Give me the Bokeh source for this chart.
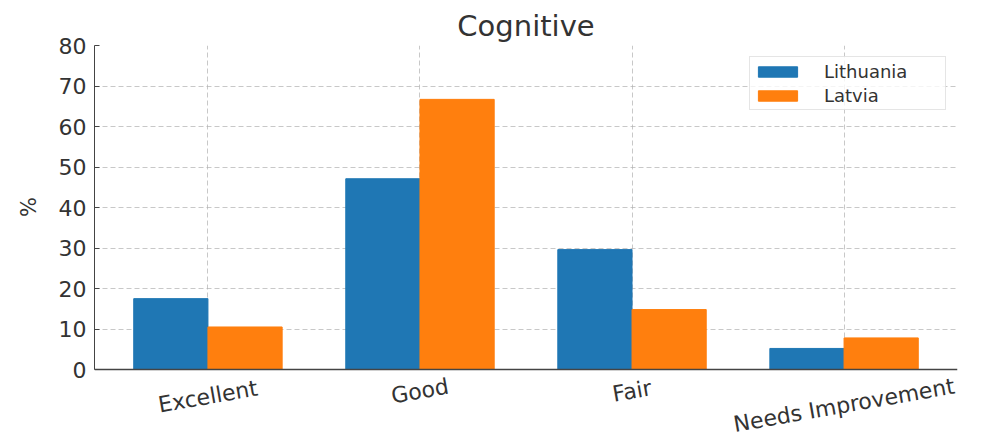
import math
from bokeh.plotting import figure
from bokeh.models import FactorRange, Range1d, FixedTicker, ColumnDataSource, Span, Grid, Title
from bokeh.transform import dodge
from bokeh.core.properties import value
from bokeh.embed import file_html
from bokeh.resources import INLINE

# ---- data ----
categories = ["Excellent", "Good", "Fair", "Needs Improvement"]
series_names = ["Lithuania", "Latvia"]
lithuania = [17.5, 47.1, 29.6, 5.2]
latvia = [10.5, 66.7, 14.8, 7.8]
y_ticks = [0, 10, 20, 30, 40, 50, 60, 70, 80]
title_text = "Cognitive"
y_label = "%"

# ---- style / layout ----
FONT = "DejaVu Sans"
TXT = "#333333"
SPINE = "#444444"
BLUE = "#1f77b4"
ORANGE = "#ff7f0e"
BAR_W = 0.35
XLAB_FS = 22
XLAB_ANGLE = 10.0
XLAB_GAP = 8          # px between the spine and the top of a rotated label
YLAB_FS = 21
FRAME_L, FRAME_R, FRAME_T, AXIS_Y = 94, 957, 45, 369
CANVAS_W, CANVAS_H = 990, 442
PAD = 0.0175
Y_MIN, Y_MAX = y_ticks[0], y_ticks[-1]

px_per_unit = (AXIS_Y - FRAME_T) / (Y_MAX - Y_MIN)
y_bottom = Y_MIN - (CANVAS_H - AXIS_Y) / px_per_unit   # frame reaches the page bottom

src = ColumnDataSource(dict(cat=categories, lit=lithuania, lat=latvia))

p = figure(
    x_range=FactorRange(factors=categories, range_padding=PAD),
    y_range=Range1d(y_bottom, Y_MAX),
    frame_width=FRAME_R - FRAME_L, frame_height=CANVAS_H - FRAME_T,
    x_axis_location=None,
    output_backend="svg", toolbar_location=None,
    min_border_left=FRAME_L, min_border_right=CANVAS_W - FRAME_R,
    min_border_top=FRAME_T, min_border_bottom=0,
)

p.vbar(x=dodge("cat", -BAR_W / 2, range=p.x_range), top="lit", bottom=Y_MIN, width=BAR_W,
       source=src, color=BLUE, legend_label=series_names[0])
p.vbar(x=dodge("cat", BAR_W / 2, range=p.x_range), top="lat", bottom=Y_MIN, width=BAR_W,
       source=src, color=ORANGE, legend_label=series_names[1])

# title
p.title.text = title_text
p.title.align = "center"
p.title.text_font = FONT
p.title.text_font_size = "29px"
p.title.text_font_style = "normal"
p.title.text_color = TXT
p.title.standoff = 6

p.outline_line_color = None

# grids
for g in (p.xgrid, p.ygrid):
    g.grid_line_color = "#b0b0b0"
    g.grid_line_alpha = 0.7
    g.grid_line_dash = "5 3"
    g.grid_line_width = 1
p.ygrid.ticker = FixedTicker(ticks=y_ticks)
if "cross_bounds" in Grid.properties():
    p.xgrid.cross_bounds = (Y_MIN, Y_MAX)

# y axis
p.yaxis.ticker = FixedTicker(ticks=y_ticks)
p.yaxis.bounds = (Y_MIN, Y_MAX)
p.yaxis.major_label_text_font = FONT
p.yaxis.major_label_text_font_size = "22px"
p.yaxis.major_label_text_color = TXT
p.yaxis.major_label_standoff = 8
p.yaxis.major_tick_in = 5
p.yaxis.major_tick_out = 0
p.yaxis.minor_tick_line_color = None
p.yaxis.axis_line_color = SPINE
p.yaxis.major_tick_line_color = SPINE

# y-axis label, centred on the 0..80 span (not on the whole frame)
axis_mid_y = (AXIS_Y + FRAME_T) / 2
ylab_len = 0.9 * YLAB_FS
ylab = Title(text=y_label, align="left", offset=CANVAS_H - (axis_mid_y + ylab_len / 2),
             text_font=FONT, text_font_size=f"{YLAB_FS}px", text_font_style="normal",
             text_color=TXT, standoff=29)
p.add_layout(ylab, "left")

# bottom spine at y = 0
p.add_layout(Span(location=Y_MIN, dimension="width", line_color=SPINE, line_width=1.3))

# rotated, centred category labels below the spine
a = math.radians(XLAB_ANGLE)
label_y = []
for c in categories:
    w = len(c) * 0.57 * XLAB_FS
    bbox_h = w * math.sin(a) + XLAB_FS * 0.85 * math.cos(a)
    label_y.append(Y_MIN - (XLAB_GAP + bbox_h / 2) / px_per_unit)
lab_src = ColumnDataSource(dict(cat=categories, y=label_y))
p.text(x="cat", y="y", text="cat", source=lab_src,
       angle=XLAB_ANGLE, angle_units="deg",
       text_align="center", text_baseline="middle",
       text_font=value(FONT), text_font_size=value(f"{XLAB_FS}px"),
       text_color=TXT)

# legend
lg = p.legend[0]
lg.location = "top_right"
lg.margin = 11
lg.padding = 3
lg.spacing = 2
lg.glyph_width = 49
lg.glyph_height = 13
lg.label_height = 22
lg.label_width = 118
lg.label_standoff = 22
lg.label_text_font = FONT
lg.label_text_font_size = "18px"
lg.label_text_color = TXT
lg.border_line_color = "#cccccc"
lg.border_line_width = 1
lg.background_fill_alpha = 0.8

open("out.html", "w").write(file_html(p, INLINE))
